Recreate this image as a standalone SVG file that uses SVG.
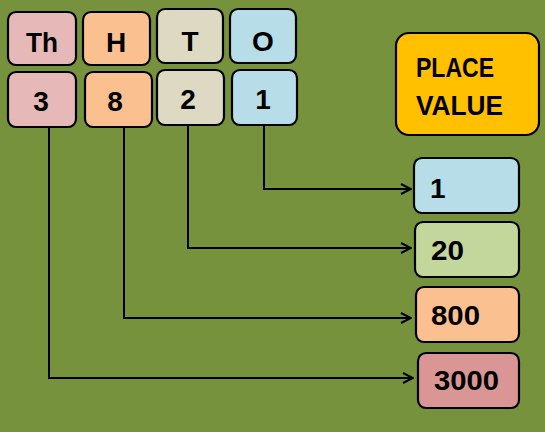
<svg xmlns="http://www.w3.org/2000/svg" width="545" height="432" viewBox="0 0 545 432">
<defs>
<style>
.box{stroke:#000;stroke-width:2.2}
.t{font-family:"Liberation Sans",Arial,sans-serif;font-weight:bold;font-size:28px;fill:#000}
.c{text-anchor:middle}
.ln{fill:none;stroke:#000;stroke-width:2}
</style>
<marker id="arr" viewBox="0 0 12 12" refX="11" refY="6" markerWidth="12" markerHeight="12" markerUnits="userSpaceOnUse" orient="auto">
<path d="M1,1 L11,6 L1,11" fill="none" stroke="#000" stroke-width="2"/>
</marker>
</defs>
<rect width="545" height="432" fill="#77923C"/>
<g id="connectors">
<polyline class="ln" points="264,126 264,189 411,189" marker-end="url(#arr)"/>
<polyline class="ln" points="188,126 188,248 411,248" marker-end="url(#arr)"/>
<polyline class="ln" points="124,128 124,318 411,318" marker-end="url(#arr)"/>
<polyline class="ln" points="49,128 49,378 413,378" marker-end="url(#arr)"/>
</g>
<g id="h-th"><rect class="box" x="8" y="12" width="68" height="53" rx="8" fill="#E6B9B8"/><text class="t c" x="42" y="52" textLength="32" lengthAdjust="spacingAndGlyphs">Th</text></g>
<g id="h-h"><rect class="box" x="83" y="12" width="67" height="53" rx="8" fill="#FAC090"/><text class="t c" x="116" y="52">H</text></g>
<g id="h-t"><rect class="box" x="157" y="9" width="66" height="54" rx="8" fill="#DDD9C3"/><text class="t c" x="190" y="51">T</text></g>
<g id="h-o"><rect class="box" x="230" y="9" width="66" height="54" rx="8" fill="#B7DEE8"/><text class="t c" x="263" y="51">O</text></g>
<g id="d-3"><rect class="box" x="8" y="72" width="68" height="55" rx="8" fill="#E6B9B8"/><text class="t c" x="41" y="111">3</text></g>
<g id="d-8"><rect class="box" x="85" y="72" width="67" height="55" rx="8" fill="#FAC090"/><text class="t c" x="115" y="111">8</text></g>
<g id="d-2"><rect class="box" x="157" y="70" width="67" height="55" rx="8" fill="#DDD9C3"/><text class="t c" x="188" y="109">2</text></g>
<g id="d-1"><rect class="box" x="232" y="70" width="65" height="55" rx="8" fill="#B7DEE8"/><text class="t c" x="263" y="109">1</text></g>
<g id="place-value"><rect class="box" x="396" y="33" width="143" height="102" rx="13" fill="#FFC000"/>
<text class="t" x="416" y="77" textLength="78" lengthAdjust="spacingAndGlyphs">PLACE</text>
<text class="t" x="416" y="115" textLength="87" lengthAdjust="spacingAndGlyphs">VALUE</text></g>
<g id="v-1"><rect class="box" x="414" y="158" width="105" height="55" rx="8" fill="#B7DEE8"/><text class="t" x="430" y="198">1</text></g>
<g id="v-20"><rect class="box" x="415" y="222" width="104" height="55" rx="8" fill="#C3D69B"/><text class="t" x="431" y="260" textLength="33" lengthAdjust="spacingAndGlyphs">20</text></g>
<g id="v-800"><rect class="box" x="416" y="287" width="103" height="55" rx="8" fill="#FAC090"/><text class="t" x="431" y="325" textLength="49" lengthAdjust="spacingAndGlyphs">800</text></g>
<g id="v-3000"><rect class="box" x="418" y="353" width="101" height="55" rx="8" fill="#D99694"/><text class="t" x="434" y="390" textLength="65" lengthAdjust="spacingAndGlyphs">3000</text></g>
</svg>
